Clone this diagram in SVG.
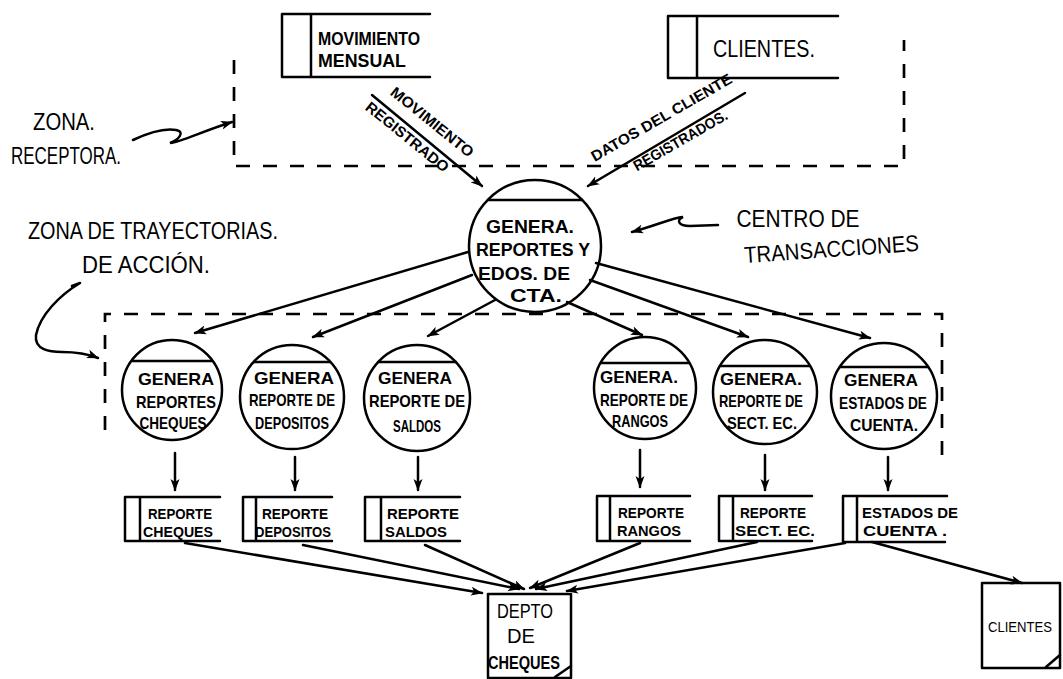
<svg xmlns="http://www.w3.org/2000/svg" width="1063" height="679" viewBox="0 0 1063 679">
  <defs>
    <marker id="ah" viewBox="0 0 12 10" refX="11" refY="5" markerWidth="12" markerHeight="10" markerUnits="userSpaceOnUse" orient="auto">
      <path d="M0,0.5 L12,5 L0,9.5 L3,5 z" fill="#000"/>
    </marker>
    <style>
      .ln { stroke:#000; stroke-width:2.5; fill:none; stroke-linecap:round; stroke-linejoin:round; }
      .ar { stroke:#000; stroke-width:2.5; fill:none; stroke-linecap:round; marker-end:url(#ah); }
      .dash { stroke:#000; stroke-width:2.7; fill:none; stroke-dasharray:14 13; }
      .bub { stroke:#000; stroke-width:2.5; fill:#fff; }
      .t { font-family:"Liberation Sans", Arial, sans-serif; font-size:17px; font-weight:bold; fill:#000; text-anchor:middle; }
      .big { font-size:23px; font-weight:normal; }
      .box { font-size:20px; font-weight:normal; }
      .mid { font-size:19px; }
      .sm { font-size:15px; }
      .lab { font-size:15px; }
      .cl { font-size:15px; font-weight:normal; }
    </style>
  </defs>

  <rect x="0" y="0" width="1063" height="679" fill="#fff"/>

  <!-- zone outlines (dashed) -->
  <g id="zones">
    <path class="dash" d="M234,60 V166 H904 V40"/>
    <path class="dash" d="M105,430 V314 H942 V462"/>
  </g>

  <!-- annotations -->
  <g id="annotations">
    <text class="t big" x="64" y="130" textLength="62" lengthAdjust="spacingAndGlyphs">ZONA.</text>
    <text class="t big" x="66" y="164" textLength="110" lengthAdjust="spacingAndGlyphs">RECEPTORA.</text>
    <path class="ar" d="M133,140 C150,132 165,128 176,130 C186,132 178,140 170,143 C182,142 200,132 232,122"/>

    <text class="t big" x="153" y="239" textLength="250" lengthAdjust="spacingAndGlyphs">ZONA DE TRAYECTORIAS.</text>
    <text class="t big" x="146" y="273" textLength="128" lengthAdjust="spacingAndGlyphs">DE ACCIÓN.</text>
    <path class="ar" d="M72,286 L80,283 M80,283 C60,295 40,315 36,335 C34,350 50,352 62,352 C76,352 88,354 98,358"/>

    <text class="t big" x="798" y="227" textLength="123" lengthAdjust="spacingAndGlyphs">CENTRO DE</text>
    <text class="t big" x="832" y="257" textLength="175" lengthAdjust="spacingAndGlyphs" transform="rotate(-4 832 257)">TRANSACCIONES</text>
    <path class="ar" d="M718,225 L690,226 C678,226 676,220 683,217 C672,218 660,224 632,232"/>
  </g>

  <!-- external entities / data stores, top -->
  <g id="movimiento-mensual">
    <path class="ln" d="M430,14 H282 V77 H430 M311,14 V77"/>
    <text class="t mid" x="369" y="45" textLength="102" lengthAdjust="spacingAndGlyphs">MOVIMIENTO</text>
    <text class="t mid" x="362" y="67" textLength="88" lengthAdjust="spacingAndGlyphs">MENSUAL</text>
  </g>
  <g id="clientes-top">
    <path class="ln" d="M838,16 H668 V78 H838 M697,16 V78"/>
    <text class="t big" x="764" y="57" textLength="102" lengthAdjust="spacingAndGlyphs">CLIENTES.</text>
  </g>

  <!-- central process -->
  <g id="centro">
    <circle class="bub" cx="535" cy="246" r="66"/>
    <line class="ln" x1="488" y1="200" x2="582" y2="200"/>
    <text class="t mid" x="530" y="233" textLength="88" lengthAdjust="spacingAndGlyphs">GENERA.</text>
    <text class="t mid" x="533" y="256" textLength="114" lengthAdjust="spacingAndGlyphs">REPORTES Y</text>
    <text class="t mid" x="524" y="280" textLength="92" lengthAdjust="spacingAndGlyphs">EDOS. DE</text>
    <text class="t mid" x="536" y="302" textLength="52" lengthAdjust="spacingAndGlyphs">CTA.</text>
  </g>

  <!-- second-level processes -->
  <g id="p-cheques">
    <circle class="bub" cx="172" cy="390" r="50"/>
    <line class="ln" x1="132" y1="361" x2="212" y2="361"/>
    <text class="t" x="176" y="385" textLength="76" lengthAdjust="spacingAndGlyphs">GENERA</text>
    <text class="t" x="176" y="408" textLength="80" lengthAdjust="spacingAndGlyphs">REPORTES</text>
    <text class="t" x="173" y="429" textLength="67" lengthAdjust="spacingAndGlyphs">CHEQUES</text>
  </g>
  <g id="p-depositos">
    <circle class="bub" cx="292" cy="397" r="52"/>
    <line class="ln" x1="254" y1="362" x2="330" y2="362"/>
    <text class="t" x="294" y="384" textLength="80" lengthAdjust="spacingAndGlyphs">GENERA</text>
    <text class="t" x="292" y="406" textLength="86" lengthAdjust="spacingAndGlyphs">REPORTE DE</text>
    <text class="t" x="292" y="429" textLength="74" lengthAdjust="spacingAndGlyphs">DEPOSITOS</text>
  </g>
  <g id="p-saldos">
    <circle class="bub" cx="417" cy="398" r="53"/>
    <line class="ln" x1="378" y1="362" x2="456" y2="362"/>
    <text class="t" x="415" y="384" textLength="74" lengthAdjust="spacingAndGlyphs">GENERA</text>
    <text class="t" x="417" y="407" textLength="96" lengthAdjust="spacingAndGlyphs">REPORTE DE</text>
    <text class="t" x="417" y="432" textLength="48" lengthAdjust="spacingAndGlyphs">SALDOS</text>
  </g>
  <g id="p-rangos">
    <circle class="bub" cx="645" cy="388" r="51"/>
    <line class="ln" x1="601" y1="363" x2="689" y2="363"/>
    <text class="t" x="639" y="383" textLength="78" lengthAdjust="spacingAndGlyphs">GENERA.</text>
    <text class="t" x="644" y="406" textLength="88" lengthAdjust="spacingAndGlyphs">REPORTE DE</text>
    <text class="t" x="640" y="427" textLength="56" lengthAdjust="spacingAndGlyphs">RANGOS</text>
  </g>
  <g id="p-sect">
    <circle class="bub" cx="765" cy="392" r="52"/>
    <line class="ln" x1="720" y1="366" x2="810" y2="366"/>
    <text class="t" x="761" y="385" textLength="82" lengthAdjust="spacingAndGlyphs">GENERA.</text>
    <text class="t" x="761" y="407" textLength="84" lengthAdjust="spacingAndGlyphs">REPORTE DE</text>
    <text class="t" x="762" y="429" textLength="70" lengthAdjust="spacingAndGlyphs">SECT. EC.</text>
  </g>
  <g id="p-estados">
    <circle class="bub" cx="884" cy="396" r="53"/>
    <line class="ln" x1="840" y1="367" x2="928" y2="367"/>
    <text class="t" x="881" y="386" textLength="74" lengthAdjust="spacingAndGlyphs">GENERA</text>
    <text class="t" x="883" y="409" textLength="88" lengthAdjust="spacingAndGlyphs">ESTADOS DE</text>
    <text class="t" x="884" y="431" textLength="68" lengthAdjust="spacingAndGlyphs">CUENTA.</text>
  </g>

  <!-- report data stores -->
  <g id="s-cheques">
    <path class="ln" d="M220,497 H125 V541 H220 M140,497 V541"/>
    <text class="t sm" x="180" y="519" textLength="64" lengthAdjust="spacingAndGlyphs">REPORTE</text>
    <text class="t sm" x="178" y="537" textLength="70" lengthAdjust="spacingAndGlyphs">CHEQUES</text>
  </g>
  <g id="s-depositos">
    <path class="ln" d="M332,497 H243 V541 H332 M256,497 V541"/>
    <text class="t sm" x="295" y="519" textLength="66" lengthAdjust="spacingAndGlyphs">REPORTE</text>
    <text class="t sm" x="293" y="537" textLength="76" lengthAdjust="spacingAndGlyphs">DEPOSITOS</text>
  </g>
  <g id="s-saldos">
    <path class="ln" d="M460,497 H365 V541 H460 M381,497 V541"/>
    <text class="t sm" x="423" y="519" textLength="72" lengthAdjust="spacingAndGlyphs">REPORTE</text>
    <text class="t sm" x="416" y="537" textLength="62" lengthAdjust="spacingAndGlyphs">SALDOS</text>
  </g>
  <g id="s-rangos">
    <path class="ln" d="M690,496 H597 V541 H690 M610,496 V541"/>
    <text class="t sm" x="651" y="518" textLength="66" lengthAdjust="spacingAndGlyphs">REPORTE</text>
    <text class="t sm" x="649" y="536" textLength="64" lengthAdjust="spacingAndGlyphs">RANGOS</text>
  </g>
  <g id="s-sect">
    <path class="ln" d="M812,496 H719 V541 H812 M733,496 V541"/>
    <text class="t sm" x="773" y="518" textLength="66" lengthAdjust="spacingAndGlyphs">REPORTE</text>
    <text class="t sm" x="775" y="536" textLength="80" lengthAdjust="spacingAndGlyphs">SECT. EC.</text>
  </g>
  <g id="s-estados">
    <path class="ln" d="M947,496 H843 V542 H945 M857,496 V542"/>
    <text class="t sm" x="910" y="518" textLength="96" lengthAdjust="spacingAndGlyphs">ESTADOS DE</text>
    <text class="t sm" x="905" y="536" textLength="84" lengthAdjust="spacingAndGlyphs">CUENTA .</text>
  </g>

  <!-- sinks -->
  <g id="depto-cheques">
    <rect class="ln" x="488" y="594" width="83" height="84"/>
    <line class="ln" x1="555" y1="677" x2="571" y2="666"/>
    <text class="t box" x="525" y="618" textLength="56" lengthAdjust="spacingAndGlyphs">DEPTO</text>
    <text class="t box" x="521" y="643" textLength="28" lengthAdjust="spacingAndGlyphs">DE</text>
    <text class="t mid" x="524" y="669" textLength="72" lengthAdjust="spacingAndGlyphs">CHEQUES</text>
  </g>
  <g id="clientes-bottom">
    <rect class="ln" x="982" y="583" width="78" height="85"/>
    <line class="ln" x1="1046" y1="667" x2="1060" y2="655"/>
    <text class="t cl" x="1020" y="632" textLength="64" lengthAdjust="spacingAndGlyphs">CLIENTES</text>
  </g>

  <!-- data flows -->
  <g id="connectors">
    <path class="ar" d="M372,95 L482,186"/>
    <path class="ar" d="M745,93 L588,186"/>
    <text class="t lab" x="429" y="126" textLength="102" lengthAdjust="spacingAndGlyphs" transform="rotate(39 429 126)">MOVIMIENTO</text>
    <text class="t lab" x="404" y="141" textLength="102" lengthAdjust="spacingAndGlyphs" transform="rotate(39 404 141)">REGISTRADO</text>
    <text class="t lab" x="664" y="122" textLength="160" lengthAdjust="spacingAndGlyphs" transform="rotate(-30 664 122)">DATOS DEL CLIENTE</text>
    <text class="t lab" x="683" y="145" textLength="106" lengthAdjust="spacingAndGlyphs" transform="rotate(-30 683 145)">REGISTRADOS.</text>

    <path class="ar" d="M468,252 L195,333"/>
    <path class="ar" d="M472,275 L313,337"/>
    <path class="ar" d="M495,300 L428,336"/>
    <path class="ar" d="M567,302 L642,335"/>
    <path class="ar" d="M590,280 L748,337"/>
    <path class="ar" d="M596,263 L870,338"/>

    <path class="ar" d="M175,453 V490"/>
    <path class="ar" d="M295,457 V490"/>
    <path class="ar" d="M418,457 V490"/>
    <path class="ar" d="M640,450 V487"/>
    <path class="ar" d="M765,455 V490"/>
    <path class="ar" d="M888,457 V490"/>

    <path class="ar" d="M185,543 L482,593"/>
    <path class="ar" d="M303,545 L519,589"/>
    <path class="ar" d="M425,545 L524,589"/>
    <path class="ar" d="M640,543 L530,588"/>
    <path class="ar" d="M757,542 L536,589"/>
    <path class="ar" d="M845,543 L567,591"/>
    <path class="ar" d="M872,542 L1022,583"/>
  </g>
</svg>
